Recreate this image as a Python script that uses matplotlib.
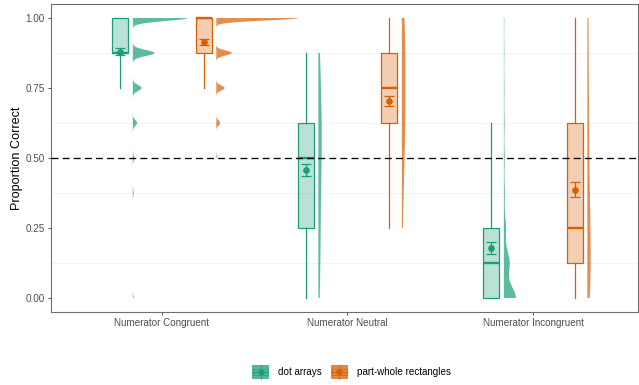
import numpy as np
import matplotlib
matplotlib.use("Agg")
import matplotlib.pyplot as plt
import matplotlib.patches as mpatches
from matplotlib.lines import Line2D
from matplotlib.legend_handler import HandlerBase

plt.rcParams["font.family"] = ["Liberation Sans", "DejaVu Sans"]
plt.rcParams["lines.scale_dashes"] = False

# ---- data -------------------------------------------------------------
conditions = ["Numerator Congruent", "Numerator Neutral", "Numerator Incongruent"]
groups = ["dot arrays", "part-whole rectangles"]
colors = ["#1B9E77", "#D95F02"]

# response levels (proportion of 8 trials correct)
levels = [0.0, 0.125, 0.25, 0.375, 0.5, 0.625, 0.75, 0.875, 1.0]

# share of participants at each level, per condition
dots_share = [
    [0.01, 0.0, 0.0, 0.01, 0.015, 0.045, 0.095, 0.235, 0.59],
    [0.08, 0.10, 0.12, 0.13, 0.17, 0.18, 0.13, 0.09, 0.0],
    [0.50, 0.24, 0.09, 0.04, 0.035, 0.03, 0.025, 0.02, 0.02],
]
rect_share = [
    [0.0, 0.0, 0.0, 0.0, 0.01, 0.035, 0.075, 0.14, 0.74],
    [0.0, 0.0, 0.06, 0.09, 0.14, 0.18, 0.19, 0.18, 0.16],
    [0.14, 0.18, 0.16, 0.12, 0.10, 0.09, 0.08, 0.06, 0.07],
]
# kernel bandwidths of the density estimates
dots_bw = [0.0108, 0.09, 0.042]
rect_bw = [0.009, 0.09, 0.09]

# boxplot summaries
dots_q1 = [0.875, 0.25, 0.0]
dots_med = [0.875, 0.5, 0.125]
dots_q3 = [1.0, 0.625, 0.25]
dots_lo = [0.75, 0.0, 0.0]
dots_hi = [1.0, 0.875, 0.625]
rect_q1 = [0.875, 0.625, 0.125]
rect_med = [1.0, 0.75, 0.25]
rect_q3 = [1.0, 0.875, 0.625]
rect_lo = [0.75, 0.25, 0.0]
rect_hi = [1.0, 1.0, 1.0]

# means with standard errors
dots_mean = [0.880, 0.456, 0.178]
dots_se = [0.013, 0.022, 0.021]
rect_mean = [0.914, 0.702, 0.387]
rect_se = [0.012, 0.018, 0.026]

# ---- figure -----------------------------------------------------------
fig = plt.figure(figsize=(6.39, 3.85), dpi=100)
ax = fig.add_axes([51 / 639, 73 / 385, 587 / 639, 308 / 385])

x = np.arange(len(conditions))
box_off = [-0.226, 0.226]
violin_base = [-0.157, 0.293]
box_w = 0.086
max_violin_w = 0.442


def density(share, bw, grid):
    share = np.asarray(share)
    lv = np.asarray(levels)
    d = np.zeros_like(grid)
    for l, s in zip(lv, share):
        if s > 0:
            d += s * np.exp(-0.5 * ((grid - l) / bw) ** 2) / (bw * np.sqrt(2 * np.pi))
    return d


shares = [dots_share, rect_share]
bws = [dots_bw, rect_bw]
curves = []
for g in range(2):
    for c in range(3):
        sh = np.asarray(shares[g][c])
        present = np.asarray(levels)[sh > 0]
        grid = np.linspace(present.min(), present.max(), 1000)
        curves.append((g, c, grid, density(sh, bws[g][c], grid)))
dmax = max(d.max() for _, _, _, d in curves)

# half violins
for g, c, grid, d in curves:
    base = x[c] + violin_base[g]
    ax.fill_betweenx(grid, base, base + d / dmax * max_violin_w,
                     facecolor=colors[g], alpha=0.7, linewidth=0, zorder=2)

# boxplots
box_data = [
    (dots_q1, dots_med, dots_q3, dots_lo, dots_hi),
    (rect_q1, rect_med, rect_q3, rect_lo, rect_hi),
]
for g in range(2):
    q1, med, q3, lo, hi = box_data[g]
    stats = [dict(q1=q1[c], med=med[c], q3=q3[c], whislo=lo[c], whishi=hi[c],
                  fliers=[]) for c in range(3)]
    ax.bxp(stats, positions=x + box_off[g], widths=box_w, showcaps=False,
           showfliers=False, patch_artist=True, manage_ticks=False,
           boxprops=dict(facecolor=colors[g] + "4D", edgecolor=colors[g], linewidth=0.9),
           medianprops=dict(color=colors[g], linewidth=1.7, solid_capstyle="butt"),
           whiskerprops=dict(color=colors[g], linewidth=0.9),
           zorder=3)

# means and standard errors
for g, (m, se) in enumerate([(dots_mean, dots_se), (rect_mean, rect_se)]):
    ax.errorbar(x + box_off[g], m, yerr=se, fmt="o", color=colors[g], ms=3.8,
                elinewidth=0.9, capsize=3.6, capthick=0.9, zorder=4)

# chance level
ax.axhline(0.5, color="black", linewidth=0.95, dashes=(5.0, 3.0), zorder=5)

ax.set_xlim(-0.598, 2.566)
ax.set_ylim(-0.05, 1.05)
ax.set_xticks(x)
ax.set_xticklabels(conditions)
ax.set_yticks([0, 0.25, 0.5, 0.75, 1.0])
ax.set_yticklabels(["0.00", "0.25", "0.50", "0.75", "1.00"])
ax.set_yticks([0.125, 0.375, 0.625, 0.875], minor=True)
ax.grid(which="minor", axis="y", color="#EFEFEF", linewidth=0.5, zorder=0)
ax.grid(which="major", visible=False)
ax.set_axisbelow(True)
ax.tick_params(which="major", length=2.5, width=0.6, color="#333333",
               labelsize=7.1, labelcolor="#4D4D4D", pad=2)
ax.tick_params(which="minor", length=0)
for s in ax.spines.values():
    s.set_color("#6E6E6E")
    s.set_linewidth(0.8)
ax.set_ylabel("Proportion Correct", fontsize=9.1, labelpad=2)


# legend key combining violin, box and mean glyphs
class KeyHandler(HandlerBase):
    def create_artists(self, legend, orig_handle, xdescent, ydescent,
                       width, height, fontsize, trans):
        col = orig_handle.get_edgecolor()
        x0, y0 = -xdescent, -ydescent
        xc, yc = x0 + width / 2, y0 + height / 2
        arts = [
            mpatches.Rectangle((x0, y0), width, height, facecolor=col, alpha=0.75,
                               edgecolor="none", transform=trans),
            mpatches.Rectangle((x0 + 0.06 * width, y0 + 0.25 * height), 0.88 * width,
                               0.5 * height, facecolor="none", edgecolor=col,
                               alpha=0.6, linewidth=0.7, transform=trans),
            Line2D([xc, xc], [y0, y0 + height], color=col, alpha=0.7,
                   linewidth=0.7, transform=trans),
            Line2D([x0 + 0.06 * width, x0 + 0.94 * width], [yc, yc], color=col,
                   alpha=0.7, linewidth=0.9, transform=trans),
            Line2D([xc], [yc], marker="o", ms=3.5, color=col, transform=trans),
        ]
        return arts


handles = [mpatches.Patch(edgecolor=colors[g], facecolor=colors[g], label=groups[g])
           for g in range(2)]
fig.legend(handles=handles, labels=groups, loc="center",
           bbox_to_anchor=(351.5 / 639, 1 - 372 / 385), ncol=2, frameon=False,
           fontsize=7.1, handlelength=1.75, handleheight=1.75, handletextpad=0.9,
           columnspacing=0.9, handler_map={mpatches.Patch: KeyHandler()})

fig.savefig("out.png", dpi=100)
